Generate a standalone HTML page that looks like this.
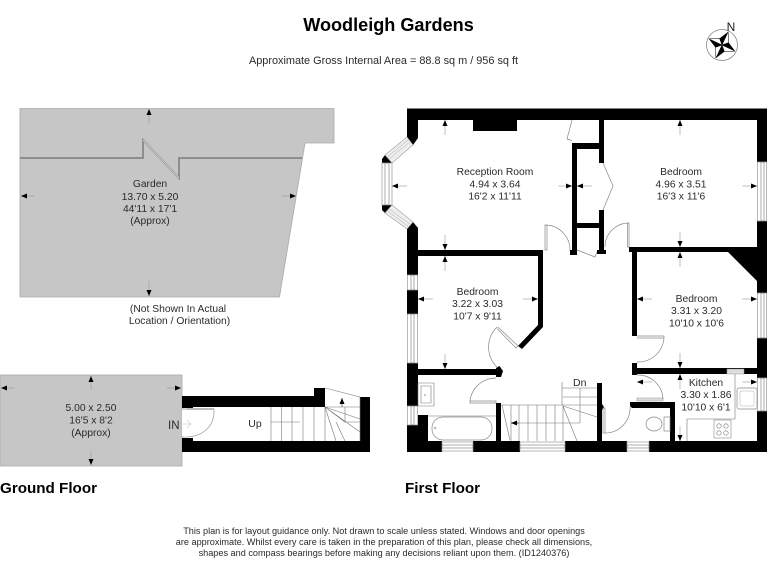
<!DOCTYPE html>
<html><head><meta charset="utf-8"><style>
html,body{margin:0;padding:0;background:#fff;width:768px;height:576px;overflow:hidden}
svg{display:block;filter:blur(.35px)}
text{font-family:"Liberation Sans",sans-serif;fill:#2a2a2a}
.t{font-size:10.3px;text-anchor:middle}
.f{font-size:9.14px;text-anchor:middle}
.h{font-size:15.2px;font-weight:bold;fill:#000}
.b{fill:#000;stroke:none}
.l{fill:none;stroke:#777;stroke-width:.6}
.w{fill:#fff;stroke:#999;stroke-width:.7}
.d{stroke:#999;stroke-width:.6;fill:none;marker-end:url(#a)}
</style></head><body>
<svg width="768" height="576" viewBox="0 0 768 576" xmlns="http://www.w3.org/2000/svg">
<defs><marker id="a" markerUnits="userSpaceOnUse" markerWidth="7" markerHeight="6" refX="6" refY="2.5" orient="auto"><path d="M0 0L6 2.5L0 5z" fill="#000"/></marker></defs>

<text x="388.500" y="31" text-anchor="middle" style="font-size:18.100px;font-weight:bold;fill:#000">Woodleigh Gardens</text>
<text x="383.500" y="64" text-anchor="middle" style="font-size:10.9px">Approximate Gross Internal Area = 88.8 sq m / 956 sq ft</text>

<!-- compass -->
<circle cx="722" cy="45" r="15.500" fill="#fff" stroke="#888" stroke-width=".8"/>
<g transform="translate(722 45) rotate(25)">
<path d="M0 -14.500L-5 -5L0 0z M14.500 0L5 -5L0 0z M0 14.500L5 5L0 0z M-14.500 0L-5 5L0 0z" fill="#000"/>
<path d="M0 -14.500L5 -5L0 0z M14.500 0L5 5L0 0z M0 14.500L-5 5L0 0z M-14.500 0L-5 -5L0 0z" fill="#fff" stroke="#000" stroke-width=".5"/>
</g>
<text x="731" y="31" text-anchor="middle" style="font-size:12px;fill:#222">N</text>

<!-- garden -->
<path d="M20 108.5H334V143H305L279.5 297H20z" fill="#c6c6c6" stroke="#aaa" stroke-width=".8"/>
<path d="M20 158H143V140L179 178V158H302" fill="none" stroke="#8d8d8d" stroke-width="2"/>
<path d="M143 140L179 178" fill="none" stroke="#e2e2e2" stroke-width=".7"/>
<line class="d" x1="149" y1="124" x2="149" y2="109"/>
<line class="d" x1="149" y1="281" x2="149" y2="296"/>
<line class="d" x1="35" y1="196" x2="21" y2="196"/>
<line class="d" x1="282" y1="196" x2="296" y2="196"/>
<text class="t" x="150" y="187">Garden</text>
<text class="t" x="150" y="200">13.70 x 5.20</text>
<text class="t" x="150" y="212">44'11 x 17'1</text>
<text class="t" x="150" y="224">(Approx)</text>
<text class="t" x="178" y="312">(Not Shown In Actual</text>
<text class="t" x="179.500" y="324">Location / Orientation)</text>

<!-- ground floor terrace -->
<rect x="0" y="375" width="182" height="91" fill="#c6c6c6" stroke="#aaa" stroke-width=".8"/>
<line class="d" x1="91" y1="390" x2="91" y2="376"/>
<line class="d" x1="91" y1="451" x2="91" y2="465"/>
<line class="d" x1="15" y1="388" x2="1" y2="388"/>
<line class="d" x1="167" y1="388" x2="181" y2="388"/>
<text class="t" x="91" y="411">5.00 x 2.50</text>
<text class="t" x="91" y="423.500">16'5 x 8'2</text>
<text class="t" x="91" y="436">(Approx)</text>

<!-- ground floor entrance -->
<path class="b" d="M182 396H314V388H325V407H193V408H182z"/>
<path class="b" d="M360 397H370V452H182V438H193V441H360z"/>
<path class="l" d="M325 388L360 397 M325 407H360 M325 407L360 419 M325 407L360 432 M325 407L336 441 M325 407L345 422V407 M345 422L360 422 M300 422H271 M271 407V441 M281.500 407V441 M292 407V441 M303 407V441 M314 407V441 M325 407V441 M336 422L345 441 M360 397V441"/>
<line class="d" x1="342" y1="407" x2="342" y2="398" style="stroke:#333"/>
<text x="255" y="427" text-anchor="middle" style="font-size:10.500px">Up</text>
<path d="M182 409H214C215 426 203 438 182 437" fill="#fff" stroke="#999" stroke-width=".7"/>
<path d="M187 409H214" stroke="#bbb" stroke-width="2" fill="none"/>
<path d="M183 424H190M187 420L191 424L187 428" stroke="#ddd" fill="none"/>
<text x="168" y="429" style="font-size:11.500px">IN</text>
<text x="0" y="493" class="h">Ground Floor</text>
<text x="405" y="493" class="h">First Floor</text>

<!-- first floor: outer walls -->
<path class="b" d="M407 108.500H767V162H757V120H418V138L413 145L407 137z"/>
<rect class="b" x="473" y="120" width="44" height="11"/>
<path class="b" d="M382 163V159L385 155L392 163z"/>
<path class="b" d="M382 205H392L385 213L382 210z"/>
<path class="b" d="M407 229L413 222L418 228V275H407z"/>
<rect class="b" x="407" y="290" width="11" height="24"/>
<rect class="b" x="407" y="363" width="11" height="43"/>
<path class="b" d="M407 425H418V415H428V441H442V452H407z"/>
<rect class="b" x="473" y="441" width="47" height="11"/>
<rect class="b" x="565" y="441" width="62" height="11"/>
<rect class="b" x="649" y="441" width="118" height="11"/>
<rect class="b" x="757" y="221" width="10" height="72"/>
<rect class="b" x="757" y="338" width="10" height="40"/>
<rect class="b" x="757" y="411" width="10" height="41"/>
<!-- bay + windows -->
<path d="M385 155L407 137L413 145L392 163z" fill="#eee" stroke="#999" stroke-width=".6"/>
<path d="M387.500 157L409 139M389 159L411 141" stroke="#aaa" stroke-width=".5"/>
<path d="M385 213L407 229L413 222L392 205z" fill="#eee" stroke="#999" stroke-width=".6"/>
<path d="M387.500 211L409 227M389 209L411 225" stroke="#aaa" stroke-width=".5"/>
<rect class="w" x="382" y="163" width="10" height="42"/>
<rect class="l" x="385" y="163" width="4" height="42"/>
<rect class="w" x="407.500" y="275" width="10" height="15"/><rect class="l" x="411" y="275" width="3" height="15"/>
<rect class="w" x="407.500" y="314" width="10" height="49"/><rect class="l" x="411" y="314" width="3" height="49"/>
<rect class="w" x="407.500" y="406" width="10" height="19"/><rect class="l" x="411" y="406" width="3" height="19"/>
<rect class="w" x="757.500" y="162" width="9" height="59"/><rect class="l" x="761" y="162" width="3" height="59"/>
<rect class="w" x="757.500" y="293" width="9" height="45"/><rect class="l" x="761" y="293" width="3" height="45"/>
<rect class="w" x="757.500" y="378" width="9" height="33"/><rect class="l" x="761" y="378" width="3" height="33"/>
<rect class="w" x="442" y="442" width="31" height="9"/><rect class="l" x="442" y="445" width="31" height="3"/>
<rect class="w" x="520" y="442" width="45" height="9"/><rect class="l" x="520" y="445" width="45" height="3"/>
<rect class="w" x="627" y="442" width="22" height="9"/><rect class="l" x="627" y="445" width="22" height="3"/>

<!-- interior walls -->
<path class="b" d="M418 250H543V256H418z"/>
<path class="b" d="M538 256H543V327L522 349L518 346L538 325z"/>
<path class="b" d="M418 369H497V375H418z"/>
<path class="b" d="M499.500 366L503 371L501 377H496V368z"/>
<rect class="b" x="496" y="403" width="5" height="38"/>
<path class="b" d="M597 383H602V404L604 407L602 410V441H597z"/>
<!-- cupboards -->
<path class="b" d="M572 143H599V120H604V163H599V149H577V223H599V210H604V250H606V254H597V250H599V228H577V251L577 255H570V250H572z"/>
<!-- right hand rooms -->
<path class="b" d="M629 247H757V252H637V336H632V252H629z"/>
<path class="b" d="M728 252H757V281z"/>
<path class="b" d="M632 363H637V368H757V374H744V371H727V374H637V375H632z"/>
<path class="b" d="M630 402H675V441H670V408H637L632 408L630 406z"/>
<rect x="727" y="369" width="17" height="5" fill="#ddd" stroke="#999" stroke-width=".5"/>

<!-- doors -->
<path d="M545 225H547V250H545z M545 225A25 25 0 0 1 570 250" fill="none" stroke="#888" stroke-width=".7"/>
<path d="M629 223V247H627.500V223z M629 223A24 24 0 0 0 605 247" fill="none" stroke="#888" stroke-width=".7"/>
<path d="M498 327L518 346L516 348L497 328.500 M497 327A28 28 0 0 0 497 367" fill="none" stroke="#888" stroke-width=".7"/>
<path d="M470 401H496V403H470z M470 401A26 26 0 0 1 496 378" fill="none" stroke="#888" stroke-width=".7"/>
<path d="M637 336H664V338H637 M664 338A26 26 0 0 1 637 362" fill="none" stroke="#888" stroke-width=".7"/>
<path d="M637 398H663V401H637z" fill="#ddd" stroke="#999" stroke-width=".6"/>
<path d="M637 375A25 25 0 0 1 663 399" fill="none" stroke="#888" stroke-width=".7"/>
<path d="M603 408H605V433H603z M605 433A25 25 0 0 0 630 407" fill="none" stroke="#888" stroke-width=".7"/>
<path d="M603 163L613 186L603 210" fill="none" stroke="#888" stroke-width=".7"/>
<path d="M572 120L567 139L572 140.500" fill="none" stroke="#888" stroke-width=".7"/>
<path d="M577 250L595 257L597 252" fill="none" stroke="#888" stroke-width=".7"/>

<!-- stairs -->
<path class="l" d="M501 405H563 M511 405V441 M519 405V441 M528 405V441 M537 405V441 M546 405V441 M555 405V441 M563 405V441 M502 405L510 440 M563 406L577 441 M563 406L597 417 M562 382V405 M562 388H597 M563 397H597 M563 405H597 M580 388V423 M516 423H580"/>
<line class="d" x1="519" y1="423" x2="511" y2="423" style="stroke:#333"/>
<text x="573" y="386" style="font-size:10.500px" text-anchor="start">Dn</text>

<!-- fixtures -->
<path class="l" d="M418 383H434V406H418z M421 386H431V403H421z"/>
<circle cx="425" cy="395" r=".8" fill="#888"/>
<path class="l" d="M428 416H496"/>
<rect x="432" y="417" width="60" height="23" rx="11" fill="none" stroke="#888" stroke-width=".7"/>
<circle cx="435" cy="428" r="1" fill="none" stroke="#888" stroke-width=".5"/>
<path class="l" d="M735 374V419H687V441"/>
<rect x="737" y="388" width="20" height="21" rx="2" fill="none" stroke="#888" stroke-width=".7"/>
<rect x="740" y="391" width="14" height="15" rx="1" fill="none" stroke="#aaa" stroke-width=".5"/>
<rect x="714" y="420" width="17" height="18" fill="none" stroke="#888" stroke-width=".6"/>
<circle cx="719" cy="426" r="2.200" fill="none" stroke="#777" stroke-width=".6"/><circle cx="726" cy="426" r="2.200" fill="none" stroke="#777" stroke-width=".6"/>
<circle cx="719" cy="433" r="2.200" fill="none" stroke="#777" stroke-width=".6"/><circle cx="726" cy="433" r="2.200" fill="none" stroke="#777" stroke-width=".6"/>
<ellipse cx="654" cy="424" rx="8" ry="7" fill="none" stroke="#888" stroke-width=".7"/>
<rect x="664" y="417" width="6" height="14" fill="none" stroke="#888" stroke-width=".7"/>

<!-- dimension arrows -->
<line class="d" x1="445" y1="135" x2="445" y2="120"/><line class="d" x1="445" y1="235" x2="445" y2="250"/>
<line class="d" x1="407" y1="186" x2="392" y2="186"/><line class="d" x1="558" y1="186" x2="572" y2="186"/>
<line class="d" x1="680" y1="135" x2="680" y2="120"/><line class="d" x1="680" y1="232" x2="680" y2="247"/>
<line class="d" x1="592" y1="186" x2="577" y2="186"/><line class="d" x1="742" y1="186" x2="757" y2="186"/>
<line class="d" x1="445" y1="271" x2="445" y2="256"/><line class="d" x1="445" y1="354" x2="445" y2="369"/>
<line class="d" x1="433" y1="299" x2="418" y2="299"/><line class="d" x1="523" y1="299" x2="538" y2="299"/>
<line class="d" x1="680" y1="267" x2="680" y2="252"/><line class="d" x1="680" y1="353" x2="680" y2="368"/>
<line class="d" x1="652" y1="299" x2="637" y2="299"/><line class="d" x1="742" y1="299" x2="757" y2="299"/>
<line class="d" x1="680" y1="389" x2="680" y2="374"/><line class="d" x1="680" y1="426" x2="680" y2="441"/>
<line class="d" x1="652" y1="382" x2="637" y2="382"/><line class="d" x1="742" y1="382" x2="757" y2="382"/>

<!-- room labels -->
<text class="t" x="495" y="175">Reception Room</text>
<text class="t" x="495" y="187.500">4.94 x 3.64</text>
<text class="t" x="495" y="199.500">16'2 x 11'11</text>
<text class="t" x="681" y="175">Bedroom</text>
<text class="t" x="681" y="187.500">4.96 x 3.51</text>
<text class="t" x="681" y="199.500">16'3 x 11'6</text>
<text class="t" x="477.500" y="295">Bedroom</text>
<text class="t" x="477.500" y="307">3.22 x 3.03</text>
<text class="t" x="477.500" y="319.500">10'7 x 9'11</text>
<text class="t" x="696.500" y="302">Bedroom</text>
<text class="t" x="696.500" y="314">3.31 x 3.20</text>
<text class="t" x="696.500" y="326.500">10'10 x 10'6</text>
<text class="t" x="706" y="386">Kitchen</text>
<text class="t" x="706" y="398">3.30 x 1.86</text>
<text class="t" x="706" y="410.500">10'10 x 6'1</text>

<!-- footer -->
<text class="f" x="384" y="534">This plan is for layout guidance only. Not drawn to scale unless stated. Windows and door openings</text>
<text class="f" x="384" y="545">are approximate. Whilst every care is taken in the preparation of this plan, please check all dimensions,</text>
<text class="f" x="384" y="556">shapes and compass bearings before making any decisions reliant upon them. (ID1240376)</text>
</svg>
</body></html>
